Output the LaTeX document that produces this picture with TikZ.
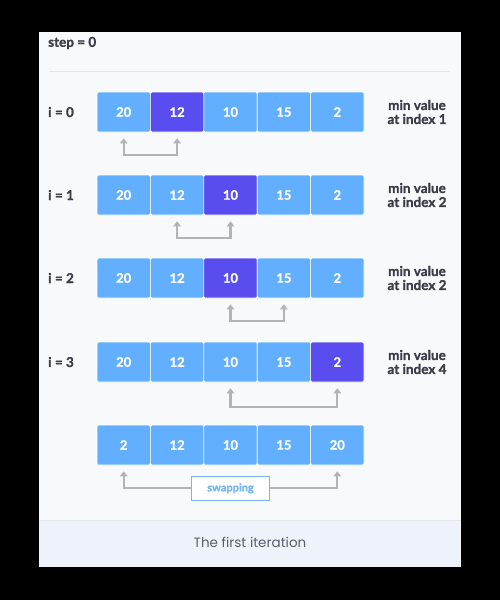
\documentclass[tikz,border=0pt]{standalone}
\usepackage{fontspec}
\setmainfont{Lato}[BoldFont={Lato Bold},BoldFeatures={FakeBold=1.2}]
\newfontfamily\capfont{Poppins}
\usetikzlibrary{positioning,arrows.meta}

\definecolor{cellblue}{HTML}{62AFFF}
\definecolor{minblue}{HTML}{5A4DF0}
\definecolor{cardbg}{HTML}{F8F9FB}
\definecolor{capbg}{HTML}{EEF3FB}
\definecolor{rulegray}{HTML}{E3E6EB}
\definecolor{labelgray}{HTML}{3B3E48}
\definecolor{capgray}{HTML}{5A5E6C}
\definecolor{arrowgray}{HTML}{B4B4B4}
\definecolor{swapblue}{HTML}{74B6F4}

\begin{document}
\begin{tikzpicture}[x=1pt,y=-1pt]

    \tikzset{
      cell/.style={
        draw=white,
        line width=0.6pt,
        fill=cellblue,
        rounded corners=1.5pt,
        minimum width=53.4pt,
        minimum height=40pt,
        inner sep=0pt,
        text=white,
        font=\bfseries\fontsize{13}{14}\selectfont,
      },
      mincell/.style={cell, fill=minblue},
      rowlabel/.style={anchor=west, inner sep=0pt, text=labelgray,
        font=\bfseries\fontsize{13.5}{15}\selectfont},
      minnote/.style={align=center, inner sep=0pt, text=labelgray,
        font=\bfseries\fontsize{13.5}{14}\selectfont},
      swaparrow/.style={draw=arrowgray, line width=2.2pt,
        {Triangle[length=5pt,width=7.5pt]}-{Triangle[length=5pt,width=7.5pt]}},
      swapbox/.style={draw=swapblue, fill=white, line width=1.5pt,
        minimum width=78pt, minimum height=24pt, inner sep=0pt,
        text=swapblue, font=\bfseries\fontsize{11}{12}\selectfont},
    }
    \useasboundingbox (0,0) rectangle (500,600);
    \fill[black] (0,0) rectangle (500,600);
    \fill[cardbg] (39,32) rectangle (461,567);
    \fill[capbg] (39,520) rectangle (461,567);
    \draw[rulegray, line width=1pt] (39,520) -- (461,520);
    \draw[rulegray, line width=1pt] (49,71) -- (450,71);
    \node[rowlabel] (step) at (48,43) {step = 0};

    % rows: index / centre y / min cell / first value / last value
    \foreach \r/\y/\m/\a/\e in {0/112/1/20/2, 1/195/2/20/2, 2/278/2/20/2, 3/362/4/20/2, 4/445/9/2/20} {
      \foreach \c/\v in {0/\a, 1/12, 2/10, 3/15, 4/\e} {
        \def\sty{cell}\ifnum\c=\m\def\sty{mincell}\fi
        \node[\sty] (r\r c\c) at ({123.7+53.4*\c},\y) {\v};
      }
      \ifnum\r<4
        \node[rowlabel] (i\r) at (48,\y) {i = \r};
        \node[minnote] (note\r) at (417,\y) {min value\\at index \m};
      \fi
    }

    % compared pairs
    \foreach \r/\a/\b/\d in {0/0/1/17, 1/1/2/17, 2/2/3/17, 3/2/4/19}
      \draw[swaparrow] ([yshift=-6pt]r\r c\a.south) -- ++(0,\d) -| ([yshift=-6pt]r\r c\b.south);

    % swap of the last row
    \node[swapbox] (swap) at ([yshift=-23pt]r4c2.south) {swapping};
    \draw[swaparrow, {Triangle[length=5pt,width=7.5pt]}-] ([yshift=-6pt]r4c0.south) |- (swap.west);
    \draw[swaparrow, {Triangle[length=5pt,width=7.5pt]}-] ([yshift=-6pt]r4c4.south) |- (swap.east);

    \node[font=\capfont\fontsize{13.5}{16}\selectfont, text=capgray] (caption) at (250,542) {The first iteration};

\end{tikzpicture}
\end{document}
